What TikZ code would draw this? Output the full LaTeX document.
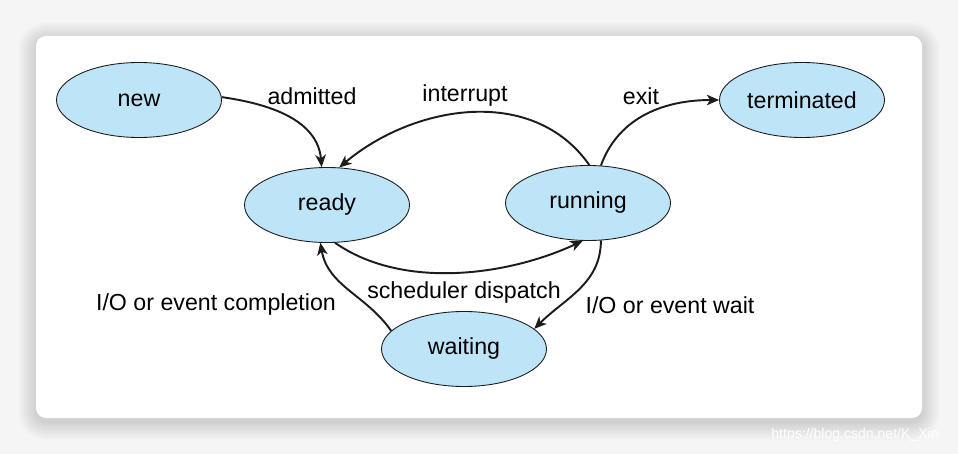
\documentclass[tikz,border=0pt]{standalone}
\usepackage{fontspec}
\setmainfont{Liberation Sans}
\usetikzlibrary{arrows.meta, shapes.geometric}
\definecolor{statefill}{RGB}{190,228,248}
\definecolor{inkline}{RGB}{28,28,28}

\begin{document}
\begin{tikzpicture}[
            x = 0.2mm, y = 0.2mm, % one unit = one pixel of the figure
            > = {Stealth[length=7pt, width=6pt, inset=2pt]}, % arrow head style
            line width = 1.1pt % line style
        ]

        \tikzstyle{state}=[
        draw = inkline,
        line width = 0.5pt,
        ellipse,
        fill = statefill,
        inner sep = 0pt,
        minimum width = 33mm,
        minimum height = 15mm,
        font = \fontsize{13.2}{15}\selectfont
        ]
        \tikzstyle{lbl}=[
        inner sep = 1pt,
        font = \fontsize{13.2}{15}\selectfont
        ]

        % page and card
        \fill[gray!8] (0,0) rectangle (958,-454);
        \useasboundingbox (0,0) rectangle (958,-454);
        \foreach \i in {1,...,18}
            \fill[black, opacity = 0.006, rounded corners = {(10+\i)*0.2mm}]
                (36-\i,-36+\i-4) rectangle (922+\i,-418-\i-4);
        \fill[white, rounded corners = 2mm] (36,-36) rectangle (922,-418);
        \node (mark) at (855,-435) [text = white, font = \fontsize{8}{9}\selectfont] {https://blog.csdn.net/K\_Xin};

        \node[state] (new) at (139,-100) {new};
        \node[state] (ready) at (327,-205) {ready};
        \node[state] (running) at (588,-203) {running};
        \node[state] (terminated) at (802,-100) {terminated};
        \node[state] (waiting) at (464,-349) {waiting};

        \node[lbl] (admitted) at (312,-96) {admitted};
        \node[lbl] (interrupt) at (465,-96) {interrupt};
        \node[lbl] (exit) at (641,-96) {exit};
        \node[lbl] (dispatch) at (464,-293) {scheduler dispatch};
        \node[lbl] (completion) at (216,-305) {I/O or event completion};
        \node[lbl] (wait) at (670,-305) {I/O or event wait};

        \path[->] (new.2) edge [inkline, out = -8, in = 95] (ready.98);
        \path[->] (running.88) edge [inkline, out = 125, in = 40] (ready.72);
        \path[->] (running.71) edge [inkline, out = 70, in = 180] (terminated.west);
        \path[->] (ready.-78) edge [inkline, out = -35, in = -155, looseness = 0.85] (running.-98);
        \path[->] (running.-71) edge [inkline, out = -90, in = 45] (waiting.16);
        \path[->] (waiting.166) edge [inkline, out = 125, in = -80] (ready.-100);
    \end{tikzpicture}
\end{document}
